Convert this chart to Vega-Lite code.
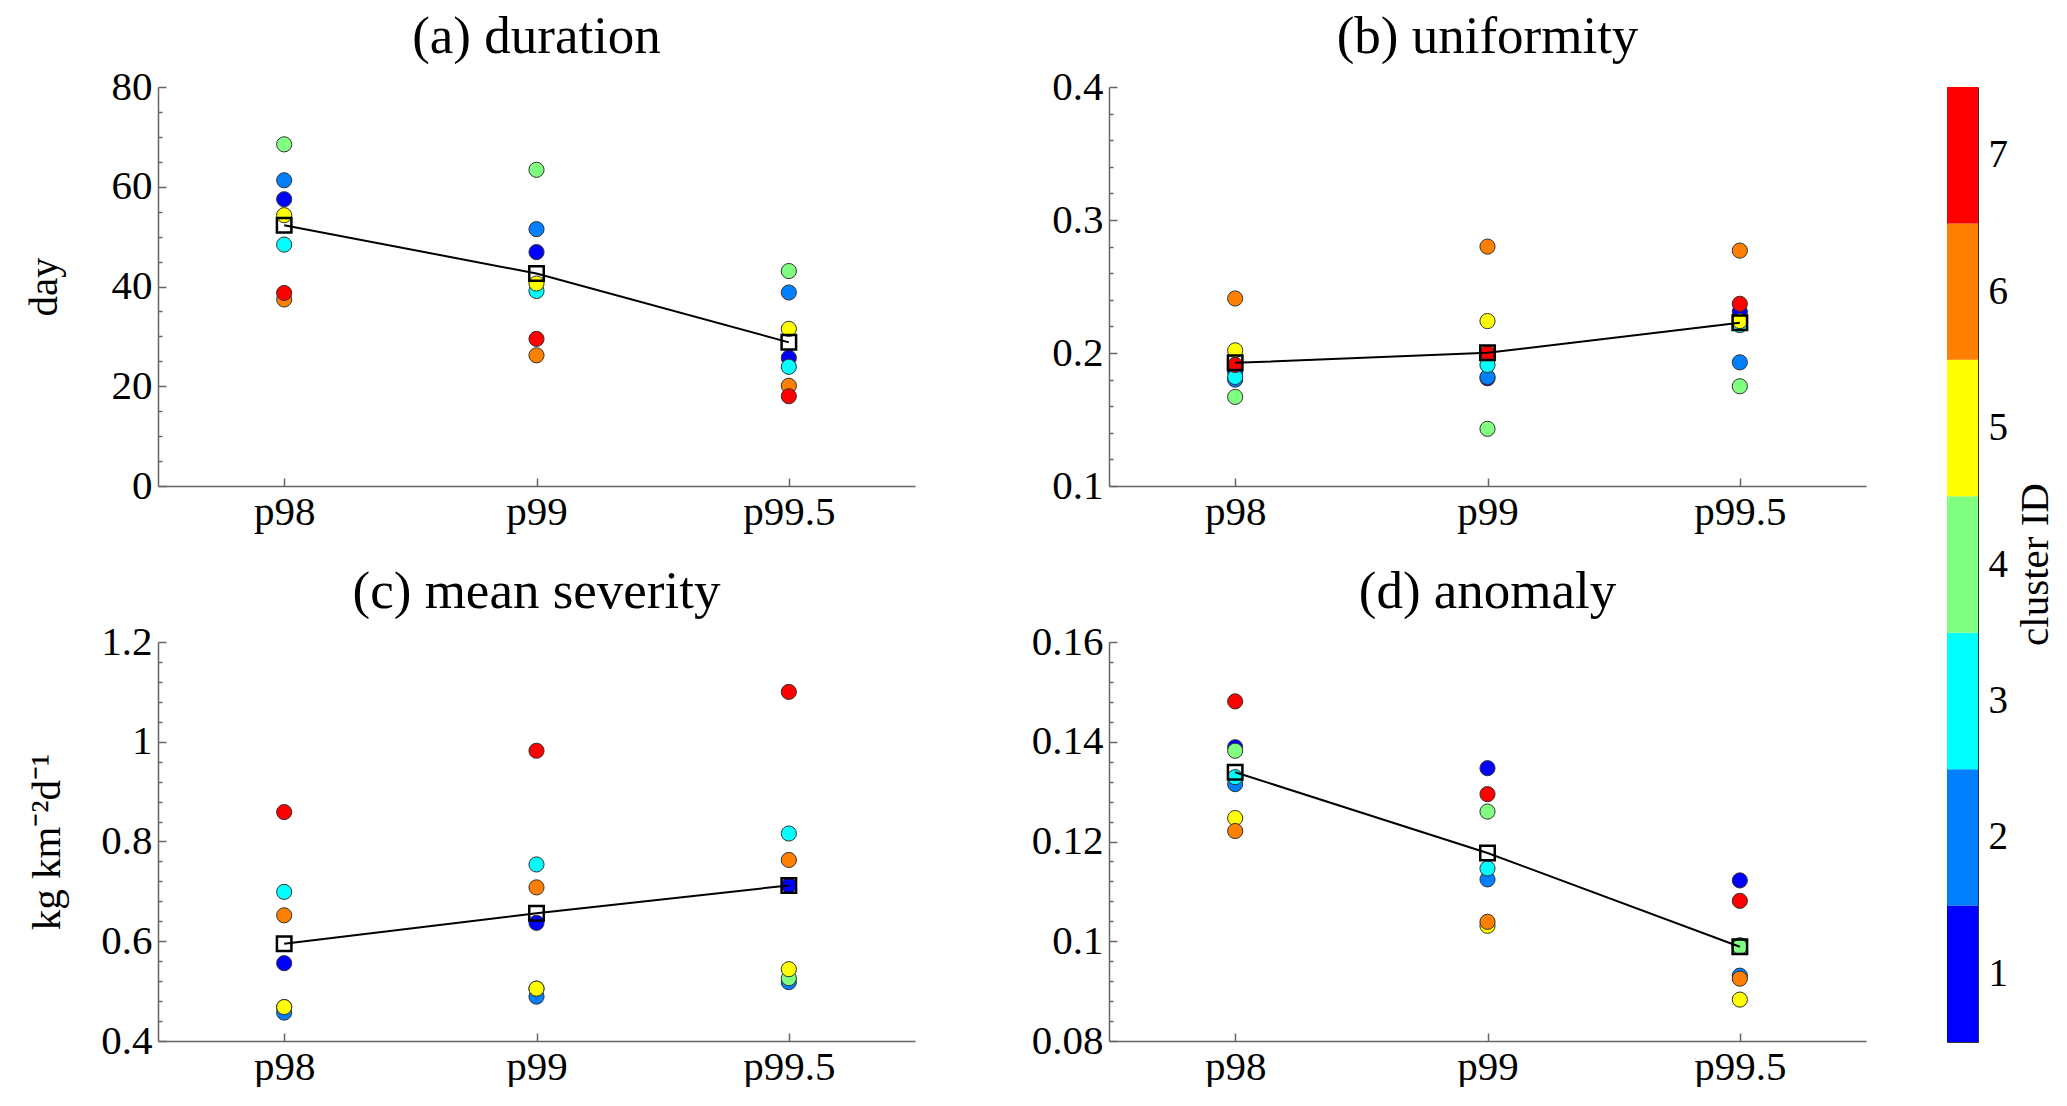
{
  "$schema": "https://vega.github.io/schema/vega-lite/v6.json",
  "background": "white",
  "padding": {"left": 23, "top": 11, "right": 0, "bottom": 0},
  "config": {
    "font": "Liberation Serif",
    "view": {"stroke": null},
    "axis": {
      "labelFont": "Liberation Serif", "labelFontSize": 41, "labelColor": "black",
      "titleFont": "Liberation Serif", "titleFontSize": 41, "titleFontWeight": "normal", "titleColor": "black",
      "domainColor": "#666666", "tickColor": "#666666", "domainWidth": 1.5, "tickWidth": 1.5, "grid": false
    },
    "title": {"font": "Liberation Serif", "fontSize": 53, "fontWeight": "normal", "color": "black", "anchor": "middle", "offset": 2}
  },
  "datasets": {
    "pts": [
      {"p": "a", "x": "p98", "c": 1, "v": 57.5}, {"p": "a", "x": "p98", "c": 2, "v": 61.3}, {"p": "a", "x": "p98", "c": 3, "v": 48.4}, {"p": "a", "x": "p98", "c": 4, "v": 68.5}, {"p": "a", "x": "p98", "c": 5, "v": 54.3}, {"p": "a", "x": "p98", "c": 6, "v": 37.4}, {"p": "a", "x": "p98", "c": 7, "v": 38.7},
      {"p": "a", "x": "p99", "c": 1, "v": 46.9}, {"p": "a", "x": "p99", "c": 2, "v": 51.5}, {"p": "a", "x": "p99", "c": 3, "v": 39.1}, {"p": "a", "x": "p99", "c": 4, "v": 63.4}, {"p": "a", "x": "p99", "c": 5, "v": 40.6}, {"p": "a", "x": "p99", "c": 6, "v": 26.2}, {"p": "a", "x": "p99", "c": 7, "v": 29.5},
      {"p": "a", "x": "p99.5", "c": 1, "v": 25.7}, {"p": "a", "x": "p99.5", "c": 2, "v": 38.8}, {"p": "a", "x": "p99.5", "c": 3, "v": 23.9}, {"p": "a", "x": "p99.5", "c": 4, "v": 43.1}, {"p": "a", "x": "p99.5", "c": 5, "v": 31.5}, {"p": "a", "x": "p99.5", "c": 6, "v": 20.1}, {"p": "a", "x": "p99.5", "c": 7, "v": 18.0},
      {"p": "b", "x": "p98", "c": 1, "v": 0.186}, {"p": "b", "x": "p98", "c": 2, "v": 0.180}, {"p": "b", "x": "p98", "c": 3, "v": 0.182}, {"p": "b", "x": "p98", "c": 4, "v": 0.167}, {"p": "b", "x": "p98", "c": 5, "v": 0.202}, {"p": "b", "x": "p98", "c": 6, "v": 0.241}, {"p": "b", "x": "p98", "c": 7, "v": 0.191},
      {"p": "b", "x": "p99", "c": 1, "v": 0.181}, {"p": "b", "x": "p99", "c": 2, "v": 0.182}, {"p": "b", "x": "p99", "c": 3, "v": 0.191}, {"p": "b", "x": "p99", "c": 4, "v": 0.143}, {"p": "b", "x": "p99", "c": 5, "v": 0.224}, {"p": "b", "x": "p99", "c": 6, "v": 0.280}, {"p": "b", "x": "p99", "c": 7, "v": 0.200},
      {"p": "b", "x": "p99.5", "c": 1, "v": 0.231}, {"p": "b", "x": "p99.5", "c": 2, "v": 0.193}, {"p": "b", "x": "p99.5", "c": 3, "v": 0.221}, {"p": "b", "x": "p99.5", "c": 4, "v": 0.175}, {"p": "b", "x": "p99.5", "c": 5, "v": 0.224}, {"p": "b", "x": "p99.5", "c": 6, "v": 0.277}, {"p": "b", "x": "p99.5", "c": 7, "v": 0.237},
      {"p": "c", "x": "p98", "c": 1, "v": 0.556}, {"p": "c", "x": "p98", "c": 2, "v": 0.457}, {"p": "c", "x": "p98", "c": 3, "v": 0.699}, {"p": "c", "x": "p98", "c": 4, "v": 0.468}, {"p": "c", "x": "p98", "c": 5, "v": 0.468}, {"p": "c", "x": "p98", "c": 6, "v": 0.652}, {"p": "c", "x": "p98", "c": 7, "v": 0.859},
      {"p": "c", "x": "p99", "c": 1, "v": 0.637}, {"p": "c", "x": "p99", "c": 2, "v": 0.489}, {"p": "c", "x": "p99", "c": 3, "v": 0.754}, {"p": "c", "x": "p99", "c": 4, "v": 0.505}, {"p": "c", "x": "p99", "c": 5, "v": 0.505}, {"p": "c", "x": "p99", "c": 6, "v": 0.708}, {"p": "c", "x": "p99", "c": 7, "v": 0.982},
      {"p": "c", "x": "p99.5", "c": 1, "v": 0.712}, {"p": "c", "x": "p99.5", "c": 2, "v": 0.518}, {"p": "c", "x": "p99.5", "c": 3, "v": 0.816}, {"p": "c", "x": "p99.5", "c": 4, "v": 0.526}, {"p": "c", "x": "p99.5", "c": 5, "v": 0.544}, {"p": "c", "x": "p99.5", "c": 6, "v": 0.763}, {"p": "c", "x": "p99.5", "c": 7, "v": 1.100},
      {"p": "d", "x": "p98", "c": 1, "v": 0.1389}, {"p": "d", "x": "p98", "c": 2, "v": 0.1315}, {"p": "d", "x": "p98", "c": 3, "v": 0.1329}, {"p": "d", "x": "p98", "c": 4, "v": 0.1382}, {"p": "d", "x": "p98", "c": 5, "v": 0.1247}, {"p": "d", "x": "p98", "c": 6, "v": 0.1221}, {"p": "d", "x": "p98", "c": 7, "v": 0.1481},
      {"p": "d", "x": "p99", "c": 1, "v": 0.1347}, {"p": "d", "x": "p99", "c": 2, "v": 0.1124}, {"p": "d", "x": "p99", "c": 3, "v": 0.1146}, {"p": "d", "x": "p99", "c": 4, "v": 0.1260}, {"p": "d", "x": "p99", "c": 5, "v": 0.1031}, {"p": "d", "x": "p99", "c": 6, "v": 0.1039}, {"p": "d", "x": "p99", "c": 7, "v": 0.1295},
      {"p": "d", "x": "p99.5", "c": 1, "v": 0.1122}, {"p": "d", "x": "p99.5", "c": 2, "v": 0.0931}, {"p": "d", "x": "p99.5", "c": 3, "v": 0.0992}, {"p": "d", "x": "p99.5", "c": 4, "v": 0.0989}, {"p": "d", "x": "p99.5", "c": 5, "v": 0.0883}, {"p": "d", "x": "p99.5", "c": 6, "v": 0.0925}, {"p": "d", "x": "p99.5", "c": 7, "v": 0.1081}
    ],
    "means": [
      {"p": "a", "x": "p98", "v": 52.3}, {"p": "a", "x": "p99", "v": 42.6}, {"p": "a", "x": "p99.5", "v": 28.8},
      {"p": "b", "x": "p98", "v": 0.1926}, {"p": "b", "x": "p99", "v": 0.2001}, {"p": "b", "x": "p99.5", "v": 0.2228},
      {"p": "c", "x": "p98", "v": 0.595}, {"p": "c", "x": "p99", "v": 0.656}, {"p": "c", "x": "p99.5", "v": 0.712},
      {"p": "d", "x": "p98", "v": 0.1339}, {"p": "d", "x": "p99", "v": 0.1177}, {"p": "d", "x": "p99.5", "v": 0.0989}
    ],
    "bar": [{"c": 1}, {"c": 2}, {"c": 3}, {"c": 4}, {"c": 5}, {"c": 6}, {"c": 7}]
  },
  "bounds": "flush",
  "spacing": 1789,
  "hconcat": [
    {
      "columns": 2,
      "bounds": "flush",
      "spacing": {"row": 156, "column": 194},
      "concat": [
        {
          "title": "(a) duration",
          "width": 757, "height": 399,
          "resolve": {"axis": {"y": "independent"}},
          "layer": [
            {
              "data": {"name": "pts"}, "transform": [{"filter": "datum.p == 'a'"}],
              "mark": {"type": "point", "shape": "circle", "filled": true, "size": 230, "stroke": "#333333", "strokeWidth": 1, "opacity": 1},
              "encoding": {
                "x": {"field": "x", "type": "nominal", "sort": ["p98", "p99", "p99.5"], "scale": {"type": "point", "padding": 0.5}, "axis": {"title": null, "labelAngle": 0, "tickSize": -8, "labelPadding": 14}},
                "y": {"field": "v", "type": "quantitative", "scale": {"domain": [0, 80], "nice": false, "zero": false}, "axis": {"orient": "left", "values": [0, 20, 40, 60, 80], "format": "d", "tickSize": -8, "labelPadding": 14, "title": "day", "titleAngle": 270, "titleX": -114, "titleY": 199.5, "titleBaseline": "middle", "titleAlign": "center"}},
                "color": {"field": "c", "type": "ordinal", "scale": {"domain": [1, 2, 3, 4, 5, 6, 7], "range": ["#0000ff", "#0080ff", "#00ffff", "#80ff80", "#ffff00", "#ff8000", "#ff0000"]}, "legend": null},
                "order": {"field": "c", "type": "quantitative"}
              }
            },
            {
              "data": {"name": "means"}, "transform": [{"filter": "datum.p == 'a'"}],
              "mark": {"type": "line", "color": "black", "strokeWidth": 2},
              "encoding": {
                "x": {"field": "x", "type": "nominal", "sort": ["p98", "p99", "p99.5"]},
                "y": {"field": "v", "type": "quantitative", "axis": {"orient": "left", "values": [5, 10, 15, 25, 30, 35, 45, 50, 55, 65, 70, 75], "labels": false, "domain": false, "tickSize": -4, "title": null}}
              }
            },
            {
              "data": {"name": "means"}, "transform": [{"filter": "datum.p == 'a'"}],
              "mark": {"type": "point", "shape": "square", "filled": false, "stroke": "black", "strokeWidth": 2.5, "size": 210, "opacity": 1},
              "encoding": {
                "x": {"field": "x", "type": "nominal", "sort": ["p98", "p99", "p99.5"]},
                "y": {"field": "v", "type": "quantitative", "axis": null}
              }
            }
          ]
        },
        {
          "title": "(b) uniformity",
          "width": 757, "height": 399,
          "resolve": {"axis": {"y": "independent"}},
          "layer": [
            {
              "data": {"name": "pts"}, "transform": [{"filter": "datum.p == 'b'"}],
              "mark": {"type": "point", "shape": "circle", "filled": true, "size": 230, "stroke": "#333333", "strokeWidth": 1, "opacity": 1},
              "encoding": {
                "x": {"field": "x", "type": "nominal", "sort": ["p98", "p99", "p99.5"], "scale": {"type": "point", "padding": 0.5}, "axis": {"title": null, "labelAngle": 0, "tickSize": -8, "labelPadding": 14}},
                "y": {"field": "v", "type": "quantitative", "scale": {"domain": [0.1, 0.4], "nice": false, "zero": false}, "axis": {"orient": "left", "values": [0.1, 0.2, 0.3, 0.4], "format": "~g", "tickSize": -8, "labelPadding": 14, "title": null}},
                "color": {"field": "c", "type": "ordinal", "scale": {"domain": [1, 2, 3, 4, 5, 6, 7], "range": ["#0000ff", "#0080ff", "#00ffff", "#80ff80", "#ffff00", "#ff8000", "#ff0000"]}, "legend": null},
                "order": {"field": "c", "type": "quantitative"}
              }
            },
            {
              "data": {"name": "means"}, "transform": [{"filter": "datum.p == 'b'"}],
              "mark": {"type": "line", "color": "black", "strokeWidth": 2},
              "encoding": {
                "x": {"field": "x", "type": "nominal", "sort": ["p98", "p99", "p99.5"]},
                "y": {"field": "v", "type": "quantitative", "axis": {"orient": "left", "values": [0.12, 0.14, 0.16, 0.18, 0.22, 0.24, 0.26, 0.28, 0.32, 0.34, 0.36, 0.38], "labels": false, "domain": false, "tickSize": -4, "title": null}}
              }
            },
            {
              "data": {"name": "means"}, "transform": [{"filter": "datum.p == 'b'"}],
              "mark": {"type": "point", "shape": "square", "filled": false, "stroke": "black", "strokeWidth": 2.5, "size": 210, "opacity": 1},
              "encoding": {
                "x": {"field": "x", "type": "nominal", "sort": ["p98", "p99", "p99.5"]},
                "y": {"field": "v", "type": "quantitative", "axis": null}
              }
            }
          ]
        },
        {
          "title": "(c) mean severity",
          "width": 757, "height": 399,
          "resolve": {"axis": {"y": "independent"}},
          "layer": [
            {
              "data": {"name": "pts"}, "transform": [{"filter": "datum.p == 'c'"}],
              "mark": {"type": "point", "shape": "circle", "filled": true, "size": 230, "stroke": "#333333", "strokeWidth": 1, "opacity": 1},
              "encoding": {
                "x": {"field": "x", "type": "nominal", "sort": ["p98", "p99", "p99.5"], "scale": {"type": "point", "padding": 0.5}, "axis": {"title": null, "labelAngle": 0, "tickSize": -8, "labelPadding": 14}},
                "y": {"field": "v", "type": "quantitative", "scale": {"domain": [0.4, 1.2], "nice": false, "zero": false}, "axis": {"orient": "left", "values": [0.4, 0.6, 0.8, 1, 1.2], "format": "~g", "tickSize": -8, "labelPadding": 14, "title": "kg km⁻²d⁻¹", "titleAngle": 270, "titleX": -111, "titleY": 199.5, "titleBaseline": "middle", "titleAlign": "center"}},
                "color": {"field": "c", "type": "ordinal", "scale": {"domain": [1, 2, 3, 4, 5, 6, 7], "range": ["#0000ff", "#0080ff", "#00ffff", "#80ff80", "#ffff00", "#ff8000", "#ff0000"]}, "legend": null},
                "order": {"field": "c", "type": "quantitative"}
              }
            },
            {
              "data": {"name": "means"}, "transform": [{"filter": "datum.p == 'c'"}],
              "mark": {"type": "line", "color": "black", "strokeWidth": 2},
              "encoding": {
                "x": {"field": "x", "type": "nominal", "sort": ["p98", "p99", "p99.5"]},
                "y": {"field": "v", "type": "quantitative", "axis": {"orient": "left", "values": [0.44, 0.48, 0.52, 0.56, 0.64, 0.68, 0.72, 0.76, 0.84, 0.88, 0.92, 0.96, 1.04, 1.08, 1.12, 1.16], "labels": false, "domain": false, "tickSize": -4, "title": null}}
              }
            },
            {
              "data": {"name": "means"}, "transform": [{"filter": "datum.p == 'c'"}],
              "mark": {"type": "point", "shape": "square", "filled": false, "stroke": "black", "strokeWidth": 2.5, "size": 210, "opacity": 1},
              "encoding": {
                "x": {"field": "x", "type": "nominal", "sort": ["p98", "p99", "p99.5"]},
                "y": {"field": "v", "type": "quantitative", "axis": null}
              }
            }
          ]
        },
        {
          "title": "(d) anomaly",
          "width": 757, "height": 399,
          "resolve": {"axis": {"y": "independent"}},
          "layer": [
            {
              "data": {"name": "pts"}, "transform": [{"filter": "datum.p == 'd'"}],
              "mark": {"type": "point", "shape": "circle", "filled": true, "size": 230, "stroke": "#333333", "strokeWidth": 1, "opacity": 1},
              "encoding": {
                "x": {"field": "x", "type": "nominal", "sort": ["p98", "p99", "p99.5"], "scale": {"type": "point", "padding": 0.5}, "axis": {"title": null, "labelAngle": 0, "tickSize": -8, "labelPadding": 14}},
                "y": {"field": "v", "type": "quantitative", "scale": {"domain": [0.08, 0.16], "nice": false, "zero": false}, "axis": {"orient": "left", "values": [0.08, 0.1, 0.12, 0.14, 0.16], "format": "~g", "tickSize": -8, "labelPadding": 14, "title": null}},
                "color": {"field": "c", "type": "ordinal", "scale": {"domain": [1, 2, 3, 4, 5, 6, 7], "range": ["#0000ff", "#0080ff", "#00ffff", "#80ff80", "#ffff00", "#ff8000", "#ff0000"]}, "legend": null},
                "order": {"field": "c", "type": "quantitative"}
              }
            },
            {
              "data": {"name": "means"}, "transform": [{"filter": "datum.p == 'd'"}],
              "mark": {"type": "line", "color": "black", "strokeWidth": 2},
              "encoding": {
                "x": {"field": "x", "type": "nominal", "sort": ["p98", "p99", "p99.5"]},
                "y": {"field": "v", "type": "quantitative", "axis": {"orient": "left", "values": [0.084, 0.088, 0.092, 0.096, 0.104, 0.108, 0.112, 0.116, 0.124, 0.128, 0.132, 0.136, 0.144, 0.148, 0.152, 0.156], "labels": false, "domain": false, "tickSize": -4, "title": null}}
              }
            },
            {
              "data": {"name": "means"}, "transform": [{"filter": "datum.p == 'd'"}],
              "mark": {"type": "point", "shape": "square", "filled": false, "stroke": "black", "strokeWidth": 2.5, "size": 210, "opacity": 1},
              "encoding": {
                "x": {"field": "x", "type": "nominal", "sort": ["p98", "p99", "p99.5"]},
                "y": {"field": "v", "type": "quantitative", "axis": null}
              }
            }
          ]
        }
      ]
    },
    {
      "data": {"name": "bar"},
      "width": 31, "height": 955,
      "view": {"stroke": "#333333", "strokeWidth": 1},
      "mark": {"type": "rect"},
      "encoding": {
        "y": {"field": "c", "type": "ordinal", "sort": "descending", "scale": {"paddingInner": 0, "paddingOuter": 0}, "axis": {"orient": "right", "ticks": false, "domain": false, "labelPadding": 10, "labelAngle": 0, "labelFontSize": 39, "title": "cluster ID", "titleAngle": 270, "titleX": 57, "titleY": 477, "titleBaseline": "middle", "titleAlign": "center"}},
        "color": {"field": "c", "type": "ordinal", "scale": {"domain": [1, 2, 3, 4, 5, 6, 7], "range": ["#0000ff", "#0080ff", "#00ffff", "#80ff80", "#ffff00", "#ff8000", "#ff0000"]}, "legend": null}
      }
    }
  ]
}
